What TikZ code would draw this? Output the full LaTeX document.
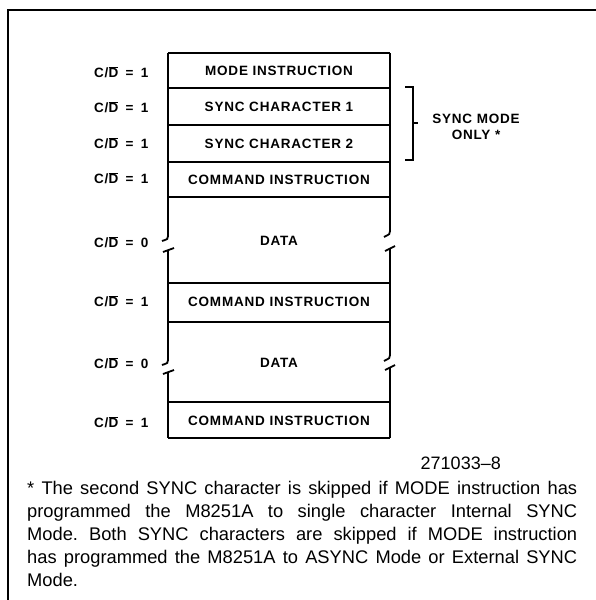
\documentclass[tikz,border=0pt]{standalone}
\usepackage{fontspec}
\setmainfont{Liberation Sans}
\newfontfamily\boxfont[LetterSpace=6]{Liberation Sans Bold}
\newcommand\cdlabel[1]{C/$\overline{\hbox{D}}$\hspace{0.55em}=\hspace{0.55em}#1}
\frenchspacing
\begin{document}
\begin{tikzpicture}[x=1pt,y=-1pt,
  rowtxt/.style={font=\boxfont\fontsize{13.5}{15}\selectfont, inner sep=0pt},
  lbl/.style={font=\boxfont\fontsize{13.5}{15}\selectfont, inner sep=0pt, anchor=west},
  boxline/.style={line width=1.8pt},
  frameline/.style={line width=1.3pt},
  note/.style={font=\fontsize{18.3}{23}\selectfont, inner sep=0pt, anchor=north west, align=left}]
\useasboundingbox (0,0) rectangle (596,600);
% outer frame (top and left)
\draw[frameline] (8,600) -- (8,10) -- (596,10);
% horizontal lines
\foreach \y in {53,88,125,162,197,283,322,402,438}
  \draw[boxline] (168,\y) -- (390,\y);
% verticals, upper part
\draw[boxline] (168,53) -- (168,237);
\draw[boxline] (390,53) -- (390,232);
% break marks, first DATA
\draw[boxline] (168,236) .. controls (168,239) .. (162,241);
\draw[boxline] (163,252) -- (174,248);
\draw[boxline] (168,250) -- (168,361);
\draw[boxline] (390,231) .. controls (390,234) .. (384,237);
\draw[boxline] (385,251) -- (395,246);
\draw[boxline] (390,248) -- (390,356);
% break marks, second DATA
\draw[boxline] (168,360) .. controls (168,363) .. (162,365);
\draw[boxline] (163,374) -- (174,370);
\draw[boxline] (168,372) -- (168,438);
\draw[boxline] (390,355) .. controls (390,358) .. (384,361);
\draw[boxline] (385,370) -- (395,365);
\draw[boxline] (390,367) -- (390,438);
% row texts
\node[rowtxt] (r1) at (279,71) {MODE INSTRUCTION};
\node[rowtxt] (r2) at (279,107) {SYNC CHARACTER 1};
\node[rowtxt] (r3) at (279,144) {SYNC CHARACTER 2};
\node[rowtxt] (r4) at (279,180) {COMMAND INSTRUCTION};
\node[rowtxt] (r5) at (279,241) {DATA};
\node[rowtxt] (r6) at (279,302) {COMMAND INSTRUCTION};
\node[rowtxt] (r7) at (279,363) {DATA};
\node[rowtxt] (r8) at (279,421) {COMMAND INSTRUCTION};
% left labels
\node[lbl] (l1) at (94,72) {\cdlabel{1}};
\node[lbl] (l2) at (94,107) {\cdlabel{1}};
\node[lbl] (l3) at (94,143) {\cdlabel{1}};
\node[lbl] (l4) at (94,178) {\cdlabel{1}};
\node[lbl] (l5) at (94,242) {\cdlabel{0}};
\node[lbl] (l6) at (94,301) {\cdlabel{1}};
\node[lbl] (l7) at (94,363) {\cdlabel{0}};
\node[lbl] (l8) at (94,422) {\cdlabel{1}};
% bracket
\draw[frameline] (405,87) -- (413,87) -- (413,160) -- (405,160);
\draw[frameline] (413,123) -- (418,123);
\node[rowtxt, align=center] (sm) at (476,127) {SYNC MODE\\[1pt]ONLY *};
% figure number
\node[font=\fontsize{18}{20}\selectfont, inner sep=0pt, anchor=east] (fig) at (501,463) {271033–8};
% note
\node[note] (nt) at (27,481) {%
\makebox[550pt][s]{* The second SYNC character is skipped if MODE instruction has}\\
\makebox[550pt][s]{programmed the M8251A to single character Internal SYNC}\\
\makebox[550pt][s]{Mode. Both SYNC characters are skipped if MODE instruction}\\
\makebox[550pt][s]{has programmed the M8251A to ASYNC Mode or External SYNC}\\
Mode.};
\end{tikzpicture}
\end{document}
